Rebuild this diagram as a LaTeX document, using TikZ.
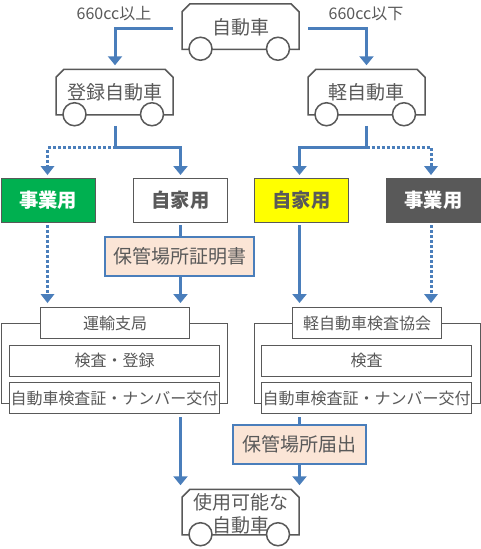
\documentclass[tikz,border=0pt]{standalone}
\usepackage{fontspec}
\setmainfont{Noto Sans CJK JP}
\usetikzlibrary{arrows.meta,calc}
\definecolor{ink}{HTML}{595959}
\definecolor{flow}{HTML}{4A7EBB}
\definecolor{peach}{HTML}{FBE5D6}
\definecolor{okgreen}{HTML}{00B050}
\definecolor{brightyellow}{RGB}{255,255,0}
\tikzset{
  x=1pt,y=-1pt,
  every node/.style={inner sep=0pt,outer sep=0pt,text=ink},
  carbody/.style={minimum width=117pt,minimum height=45.5pt},
  carline/.style={draw=ink,line width=1.5pt,fill=white,line join=miter},
  wheel/.style={circle,draw=ink,line width=1.5pt,fill=white,minimum size=23pt},
  bigtext/.style={font=\fontsize{19}{23.3}\selectfont,align=center},
  midtext/.style={font=\fontsize{16}{18}\selectfont},
  kind/.style={draw=ink,line width=1pt,minimum width=94pt,minimum height=44pt,font=\fontsize{19.3}{22}\selectfont\bfseries},
  paper/.style={draw=flow,line width=1.5pt,fill=peach,minimum height=39pt,bigtext},
  panel/.style={draw=ink,line width=1pt,minimum width=226pt,minimum height=79.5pt},
  headbox/.style={draw=ink,line width=1pt,fill=white,minimum width=149pt,minimum height=31pt,midtext},
  itembox/.style={draw=ink,line width=1pt,fill=white,minimum width=210pt,minimum height=30.7pt,midtext},
  conn/.style={draw=flow,line width=3pt},
  arrowed/.style={conn,-{Triangle[width=14pt,length=9pt]}},
  dots/.style={draw=flow,line width=3pt,dash pattern=on 3pt off 2pt}
}
\newcommand{\carshape}[3]{%
  \node[carbody] (#1) at (#2,#3) {};
  \draw[carline] (#1.south west) -- ($(#1.north west)+(0,8)$) -- ($(#1.north west)+(8,0)$)
     -- ($(#1.north east)+(-8,0)$) -- ($(#1.north east)+(0,8)$) -- (#1.south east) -- cycle;
  \node[wheel] (#1w) at ($(#1.south west)+(18.5,-0.5)$) {};
  \node[wheel] (#1e) at ($(#1.south east)+(-21,-0.5)$) {};
}
\begin{document}
\begin{tikzpicture}
\useasboundingbox (0,0) rectangle (481,549);
\fill[white] (0,0) rectangle (481,549);

% cars
\carshape{car}{240.5}{26.5}
\carshape{reg}{114.5}{92}
\carshape{kei}{366.5}{92}
\carshape{done}{240.5}{512}
\node[bigtext] (cart) at (240.5,27) {自動車};
\node[bigtext] (regt) at (114.5,92.5) {登録自動車};
\node[bigtext] (keit) at (366.5,92.5) {軽自動車};
\node[bigtext] (donet) at (240.5,513.5) {使用可能な\\自動車};

% labels
\node[midtext] (big) at (114,13.5) {660cc以上};
\node[midtext] (small) at (366,13.5) {660cc以下};

% kinds
\node[kind,fill=okgreen,text=white] (k1) at (48,200) {事業用};
\node[kind,fill=white] (k2) at (180.5,200) {自家用};
\node[kind,fill=brightyellow] (k3) at (301.5,200) {自家用};
\node[kind,fill=ink,text=white] (k4) at (433.5,200) {事業用};

% papers
\node[paper,minimum width=149pt] (cert) at (179.5,256.5) {保管場所証明書};
\node[paper,minimum width=133pt] (notice) at (299.5,444.5) {保管場所届出};

% offices
\node[panel] (p1) at (114.5,363.5) {};
\node[panel] (p2) at (367.5,363.5) {};
\node[headbox] (h1) at (115,323) {運輸支局};
\node[headbox] (h2) at (367,323) {軽自動車検査協会};
\node[itembox] (i1) at (114.5,360.7) {検査・登録};
\node[itembox] (i2) at (366.5,360.7) {検査};
\node[itembox] (j1) at (114.5,398) {自動車検査証・ナンバー交付};
\node[itembox] (j2) at (366.5,398) {自動車検査証・ナンバー交付};

% connector anchors
\coordinate (carL) at ($(car.west)+(-9,1.5)$);
\coordinate (carR) at ($(car.east)+(9,1.5)$);
\coordinate (regIn) at ($(reg.north)+(0.5,-4)$);
\coordinate (keiIn) at ($(kei.north)+(0,-4)$);
\coordinate (regOut) at ($(reg.south)+(1,11)$);
\coordinate (keiOut) at ($(kei.south)+(0,11)$);
\coordinate (regFork) at ($(regOut)+(0,22)$);
\coordinate (keiFork) at ($(keiOut)+(0,22)$);
\coordinate (k1in) at ($(k1.north)+(-0.5,-3)$);
\coordinate (k2in) at ($(k2.north)+(0,-3)$);
\coordinate (k3in) at ($(k3.north)+(-2,-3)$);
\coordinate (k4in) at ($(k4.north)+(-2.5,-3)$);
\coordinate (k1out) at ($(k1.south)+(-0.5,3)$);
\coordinate (k2out) at ($(k2.south)+(0,3)$);
\coordinate (k3out) at ($(k3.south)+(-2,3)$);
\coordinate (k4out) at ($(k4.south)+(-2.5,3)$);
\coordinate (h1a) at (k1out |- {$(h1.north)+(0,-4.5)$});
\coordinate (h1b) at (k2out |- {$(h1.north)+(0,-4.5)$});
\coordinate (h2a) at (k3out |- {$(h2.north)+(0,-4.5)$});
\coordinate (h2b) at (k4out |- {$(h2.north)+(0,-4.5)$});
\coordinate (j1out) at (k2out |- {$(j1.south)+(0,4)$});
\coordinate (j2out) at (notice.north |- {$(j2.south)+(0,4)$});
\coordinate (doneA) at (k2out |- {$(done.north)+(0,-4)$});
\coordinate (doneB) at (notice.south |- {$(done.north)+(0,-4)$});

% connectors
\draw[arrowed] (carL) -| (regIn);
\draw[arrowed] (carR) -| (keiIn);
\draw[dots] (regFork) -| ($(k1in)+(0,-9)$);
\draw[dots] (keiFork) -| ($(k4in)+(0,-9)$);
\fill[flow] (k1in) -- ++(-7,-9) -- ++(14,0) -- cycle;
\fill[flow] (k4in) -- ++(-7,-9) -- ++(14,0) -- cycle;
\draw[conn] (regOut) -- (regFork);
\draw[conn] (keiOut) -- (keiFork);
\draw[arrowed] (regFork) -| (k2in);
\draw[arrowed] (keiFork) -| (k3in);

\draw[dots] (k1out) -- ($(h1a)+(0,-9)$);
\fill[flow] (h1a) -- ++(-7,-9) -- ++(14,0) -- cycle;
\draw[dots] (k4out) -- ($(h2b)+(0,-9)$);
\fill[flow] (h2b) -- ++(-7,-9) -- ++(14,0) -- cycle;
\draw[conn] (k2out) -- (k2out |- cert.north);
\draw[arrowed] (k2out |- cert.south) -- (h1b);
\draw[arrowed] (k3out) -- (h2a);
\draw[arrowed] (j1out) -- (doneA);
\draw[conn] (j2out) -- (notice.north);
\draw[arrowed] (notice.south) -- (doneB);
\end{tikzpicture}
\end{document}
